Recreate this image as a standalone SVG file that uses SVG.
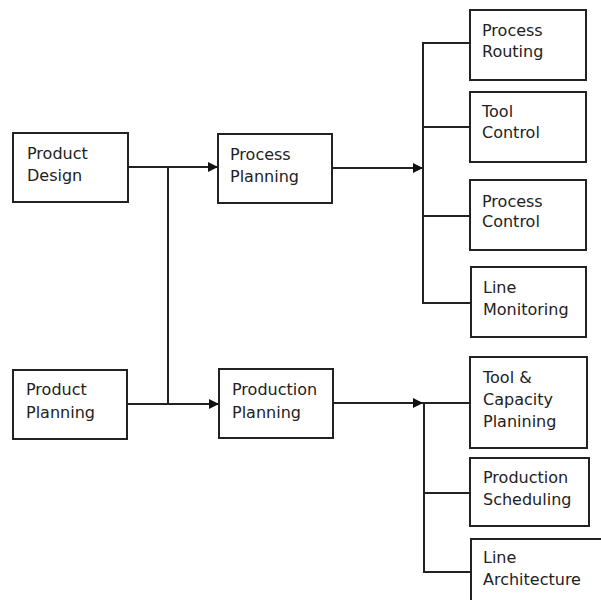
<svg xmlns="http://www.w3.org/2000/svg" width="601" height="600" viewBox="0 0 601 600">
<style>
.box{fill:#fff;stroke:#222;stroke-width:2}
.t{font-family:"DejaVu Sans",Verdana,sans-serif;font-size:16px;fill:#222}
.ln{fill:none;stroke:#222;stroke-width:2}
</style>
<defs>
<marker id="ah" viewBox="0 0 10 10" refX="10" refY="5" markerWidth="10" markerHeight="10" markerUnits="userSpaceOnUse" orient="auto">
<path d="M0,0 L10,5 L0,10 z" fill="#111"/>
</marker>
</defs>
<rect width="601" height="600" fill="#fff"/>
<g id="connectors">
<path class="ln" d="M128,167 H218" marker-end="url(#ah)"/>
<path class="ln" d="M168,167 V404"/>
<path class="ln" d="M127,404 H219" marker-end="url(#ah)"/>
<path class="ln" d="M332,168 H423" marker-end="url(#ah)"/>
<path class="ln" d="M470,43 H423 V303 H471"/>
<path class="ln" d="M423,127 H470"/>
<path class="ln" d="M423,216 H470"/>
<path class="ln" d="M333,403 H423" marker-end="url(#ah)"/>
<path class="ln" d="M423,403 H470"/>
<path class="ln" d="M424,403 V572 H471"/>
<path class="ln" d="M424,493 H470"/>
</g>
<g id="product-design"><rect class="box" x="13" y="133" width="115" height="69"/><text class="t" x="27" y="159">Product</text><text class="t" x="27" y="181">Design</text></g>
<g id="product-planning"><rect class="box" x="13" y="370" width="114" height="69"/><text class="t" x="26" y="395">Product</text><text class="t" x="26" y="418">Planning</text></g>
<g id="process-planning"><rect class="box" x="218" y="134" width="114" height="69"/><text class="t" x="230" y="160">Process</text><text class="t" x="230" y="182">Planning</text></g>
<g id="production-planning"><rect class="box" x="219" y="369" width="114" height="69"/><text class="t" x="232" y="395">Production</text><text class="t" x="232" y="418">Planning</text></g>
<g id="process-routing"><rect class="box" x="470" y="10" width="116" height="70"/><text class="t" x="482" y="36">Process</text><text class="t" x="482" y="57">Routing</text></g>
<g id="tool-control"><rect class="box" x="470" y="92" width="116" height="70"/><text class="t" x="482" y="117">Tool</text><text class="t" x="482" y="138">Control</text></g>
<g id="process-control"><rect class="box" x="470" y="180" width="116" height="70"/><text class="t" x="482" y="207">Process</text><text class="t" x="482" y="227">Control</text></g>
<g id="line-monitoring"><rect class="box" x="471" y="267" width="115" height="70"/><text class="t" x="483" y="293">Line</text><text class="t" x="483" y="315">Monitoring</text></g>
<g id="tool-capacity"><rect class="box" x="470" y="357" width="117" height="91"/><text class="t" x="483" y="383">Tool &amp;</text><text class="t" x="483" y="405">Capacity</text><text class="t" x="483" y="427">Planining</text></g>
<g id="production-scheduling"><rect class="box" x="470" y="458" width="119" height="68"/><text class="t" x="483" y="483">Production</text><text class="t" x="483" y="505">Scheduling</text></g>
<g id="line-architecture"><rect class="box" x="471" y="539" width="150" height="80"/><text class="t" x="483" y="563">Line</text><text class="t" x="483" y="585">Architecture</text></g>
</svg>
